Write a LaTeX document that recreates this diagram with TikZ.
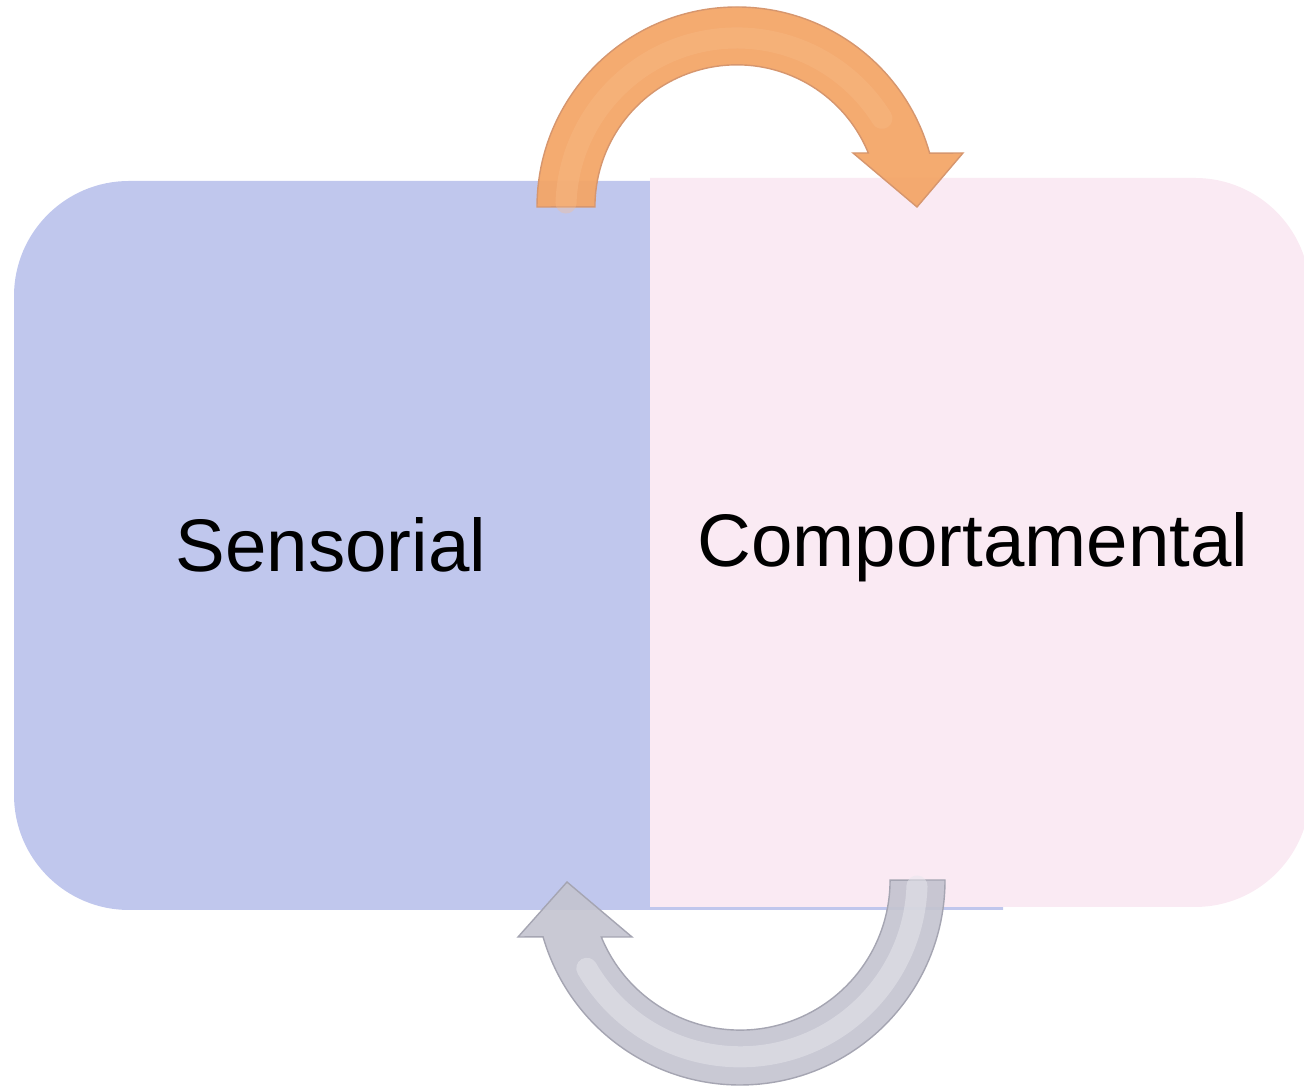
\documentclass[tikz,border=0pt]{standalone}
\usepackage{fontspec}
\setmainfont{Liberation Sans}
\definecolor{sensblue}{RGB}{192,199,237}
\definecolor{comppink}{RGB}{250,234,243}
\definecolor{arrorange}{RGB}{243,166,104}
\definecolor{arrorangeL}{RGB}{250,190,140}
\definecolor{arrorangeD}{RGB}{214,150,110}
\definecolor{arrgray}{RGB}{196,196,208}
\definecolor{arrgrayL}{RGB}{232,232,238}
\definecolor{arrgrayD}{RGB}{165,165,178}
\tikzset{
  boxtext/.style={font=\fontsize{42.4}{48}\selectfont, text=black, anchor=base, inner sep=0pt},
  orangearrow/.style={fill=arrorange, draw=arrorangeD, line width=0.8pt, fill opacity=0.95},
  grayarrow/.style={fill=arrgray, draw=arrgrayD, line width=0.8pt, fill opacity=0.92},
}
\begin{document}
\begin{tikzpicture}[x=0.02cm,y=0.02cm]
\useasboundingbox (0,0) rectangle (1304,1087);
% boxes
\fill[sensblue] (1003,177) -- (129,177) arc[start angle=270, end angle=180, radius=115]
  -- (14,791) arc[start angle=180, end angle=90, radius=115] -- (1003,906) -- cycle;
\fill[comppink] (650,180) -- (1195,180) arc[start angle=-90, end angle=0, radius=115]
  -- (1310,794) arc[start angle=0, end angle=90, radius=115] -- (650,909) -- cycle;
\node[boxtext] (sens) at (331,515) {Sensorial};
\node[boxtext] (comp) at (973,520) {Comportamental};
% orange arrow (Sensorial -> Comportamental)
\path[orangearrow] (537,880) arc[start angle=180, end angle=15.6, radius=200]
  -- (963,934) -- (917,880) -- (853,934) -- (868.3,934)
  arc[start angle=22.3, end angle=180, radius=142] -- cycle;
\draw[arrorangeL, line width=12pt, opacity=0.35, line cap=round]
  (566,884) arc[start angle=178, end angle=32, radius=171];
% gray arrow (Comportamental -> Sensorial)
\path[grayarrow] (945,207) arc[start angle=0, end angle=-163.9, radius=205]
  -- (518,150) -- (567,205) -- (632,150) -- (601.3,150)
  arc[start angle=-157.7, end angle=0, radius=150] -- cycle;
\draw[arrgrayL, line width=12pt, opacity=0.5, line cap=round]
  (917,201) arc[start angle=-2, end angle=-150, radius=177];
\end{tikzpicture}
\end{document}
